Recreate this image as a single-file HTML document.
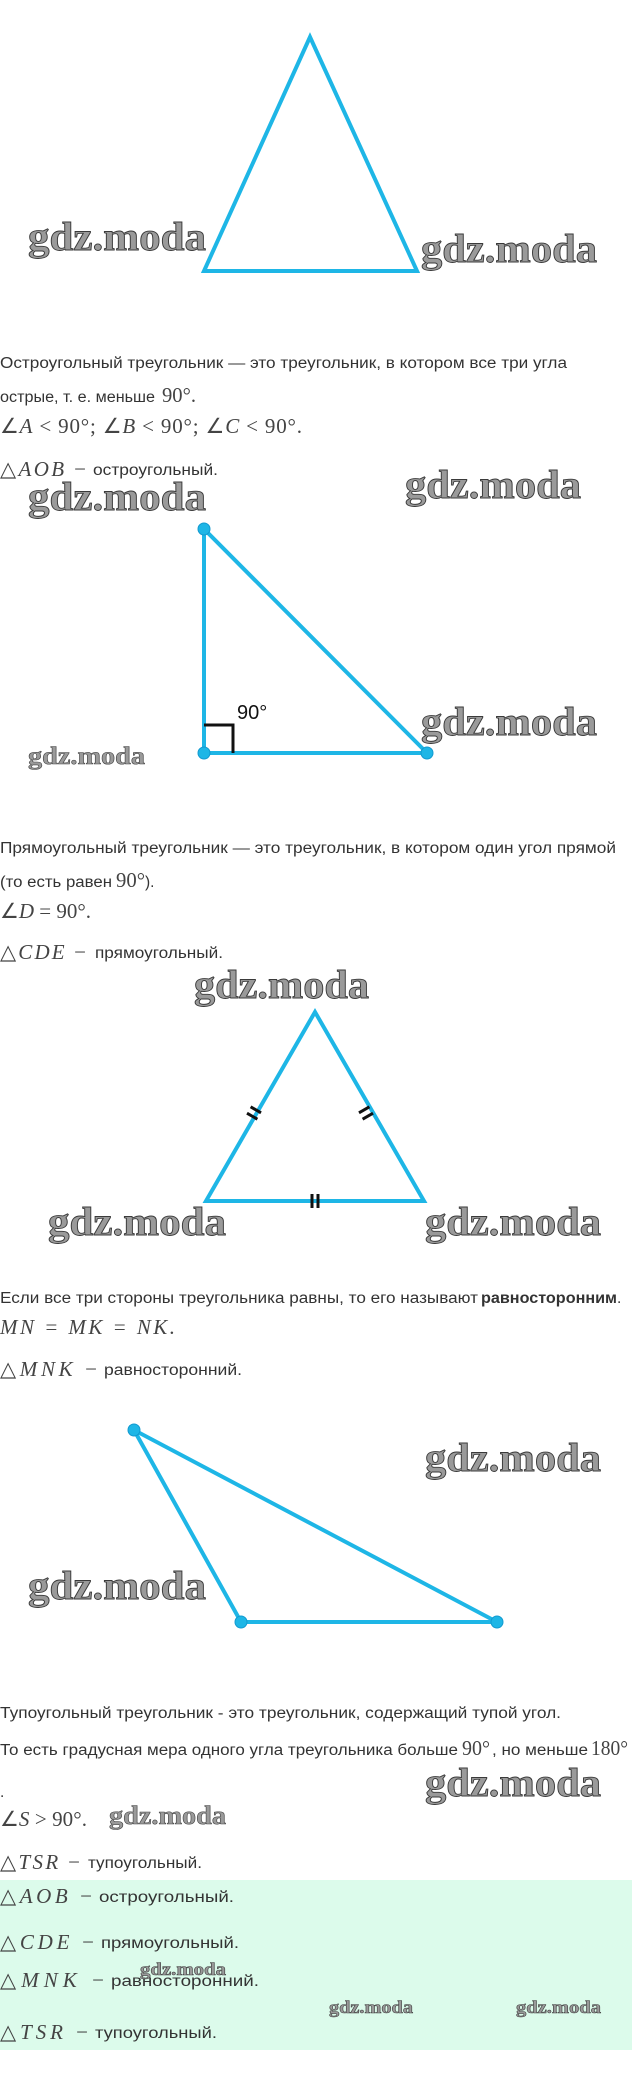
<!DOCTYPE html>
<html><head><meta charset="utf-8"><style>
html,body{margin:0;padding:0;background:#fff;}
svg{display:block;}
.t{font-family:"Liberation Sans",sans-serif;font-size:15.5px;fill:#333;}
.m{font-family:"Liberation Serif",serif;font-style:italic;font-size:21px;fill:#444;}
.n{font-family:"Liberation Serif",serif;font-size:21px;fill:#444;}
.w{font-family:"Liberation Serif",serif;font-weight:bold;font-size:40px;fill:#9a9a9a;stroke:#3a3a3a;stroke-width:0.9;}
.ws{font-family:"Liberation Serif",serif;font-weight:bold;fill:#9a9a9a;stroke:#444;stroke-width:0.6;}
.tri{fill:none;stroke:#1eb6e6;stroke-width:4;stroke-linejoin:miter;}
.dot{fill:#1eb6e6;stroke:#129ad0;stroke-width:1;}
</style></head><body>
<svg width="632" height="2085" viewBox="0 0 632 2085" xmlns="http://www.w3.org/2000/svg">
<polygon class="tri" points="310,37 204,271 417,271"/>
<text class="w" x="28" y="250" textLength="178" lengthAdjust="spacingAndGlyphs">gdz.moda</text>
<text class="w" x="421" y="262" textLength="176" lengthAdjust="spacingAndGlyphs">gdz.moda</text>

<text class="t" x="0" y="368" textLength="567" lengthAdjust="spacingAndGlyphs">Остроугольный треугольник — это треугольник, в котором все три угла</text>
<text class="t" x="0" y="402" textLength="155" lengthAdjust="spacingAndGlyphs">острые, т. е. меньше</text>
<text class="n" x="162" y="402" textLength="34" lengthAdjust="spacingAndGlyphs">90°.</text>
<text x="0" y="433" class="n" textLength="302" lengthAdjust="spacing">∠<tspan class="m">A</tspan> &lt; 90°;  ∠<tspan class="m">B</tspan> &lt; 90°;  ∠<tspan class="m">C</tspan> &lt; 90°.</text>
<text x="0" y="476" class="n" textLength="86" lengthAdjust="spacing">△<tspan class="m">AOB</tspan> −</text>
<text class="t" x="93" y="475" textLength="125" lengthAdjust="spacingAndGlyphs">остроугольный.</text>
<text class="w" x="28" y="510" textLength="178" lengthAdjust="spacingAndGlyphs">gdz.moda</text>
<text class="w" x="405" y="498" textLength="176" lengthAdjust="spacingAndGlyphs">gdz.moda</text>

<polygon class="tri" points="204,529 204,753 427,753"/>
<polyline points="204,725 233,725 233,753" fill="none" stroke="#111" stroke-width="3"/>
<circle class="dot" cx="204" cy="529" r="6"/>
<circle class="dot" cx="204" cy="753" r="6"/>
<circle class="dot" cx="427" cy="753" r="6"/>
<text x="237" y="719" font-family="Liberation Sans,sans-serif" font-size="20" fill="#111">90°</text>
<text class="ws" x="28" y="764" font-size="25" textLength="117" lengthAdjust="spacingAndGlyphs">gdz.moda</text>
<text class="w" x="421" y="735" textLength="176" lengthAdjust="spacingAndGlyphs">gdz.moda</text>

<text class="t" x="0" y="853" textLength="616" lengthAdjust="spacingAndGlyphs">Прямоугольный треугольник — это треугольник, в котором один угол прямой</text>
<text class="t" x="0" y="887" textLength="112" lengthAdjust="spacingAndGlyphs">(то есть равен</text>
<text class="n" x="116" y="887" textLength="29" lengthAdjust="spacingAndGlyphs">90°</text>
<text class="t" x="145" y="887">).</text>
<text x="0" y="918" class="n" textLength="91" lengthAdjust="spacing">∠<tspan class="m">D</tspan> = 90°.</text>
<text x="0" y="959" class="n" textLength="86" lengthAdjust="spacing">△<tspan class="m">CDE</tspan> −</text>
<text class="t" x="95" y="958" textLength="128" lengthAdjust="spacingAndGlyphs">прямоугольный.</text>
<text class="w" x="194" y="998" textLength="175" lengthAdjust="spacingAndGlyphs">gdz.moda</text>

<polygon class="tri" points="315,1012 206,1201 424,1201"/>
<g stroke="#111" stroke-width="3">
<line x1="250.6" y1="1106.8" x2="261" y2="1112.8"/>
<line x1="247" y1="1113.2" x2="257.4" y2="1119.2"/>
<line x1="369.4" y1="1106.8" x2="359" y2="1112.8"/>
<line x1="373" y1="1113.2" x2="362.6" y2="1119.2"/>
<line x1="312" y1="1194" x2="312" y2="1208"/>
<line x1="318" y1="1194" x2="318" y2="1208"/>
</g>
<text class="w" x="48" y="1235" textLength="178" lengthAdjust="spacingAndGlyphs">gdz.moda</text>
<text class="w" x="425" y="1235" textLength="176" lengthAdjust="spacingAndGlyphs">gdz.moda</text>

<text class="t" x="0" y="1303" textLength="478" lengthAdjust="spacingAndGlyphs">Если все три стороны треугольника равны, то его называют</text>
<text class="t" x="481" y="1303" font-weight="bold" textLength="136" lengthAdjust="spacingAndGlyphs">равносторонним</text>
<text class="t" x="617" y="1303">.</text>
<text x="0" y="1334" class="m" textLength="175" lengthAdjust="spacing">MN <tspan class="n">=</tspan> MK <tspan class="n">=</tspan> NK.</text>
<text x="0" y="1376" class="n" textLength="97" lengthAdjust="spacing">△<tspan class="m">MNK</tspan> −</text>
<text class="t" x="104" y="1375" textLength="138" lengthAdjust="spacingAndGlyphs">равносторонний.</text>

<polygon class="tri" points="134,1430 241,1622 497,1622"/>
<circle class="dot" cx="134" cy="1430" r="6"/>
<circle class="dot" cx="241" cy="1622" r="6"/>
<circle class="dot" cx="497" cy="1622" r="6"/>
<text class="w" x="425" y="1471" textLength="176" lengthAdjust="spacingAndGlyphs">gdz.moda</text>
<text class="w" x="28" y="1599" textLength="178" lengthAdjust="spacingAndGlyphs">gdz.moda</text>

<text class="t" x="0" y="1718" textLength="561" lengthAdjust="spacingAndGlyphs">Тупоугольный треугольник - это треугольник, содержащий тупой угол.</text>
<text class="t" x="0" y="1755" textLength="458" lengthAdjust="spacingAndGlyphs">То есть градусная мера одного угла треугольника больше</text>
<text class="n" x="462" y="1755" textLength="28" lengthAdjust="spacingAndGlyphs">90°</text>
<text class="t" x="492" y="1755" textLength="96" lengthAdjust="spacingAndGlyphs">, но меньше</text>
<text class="n" x="591" y="1755" textLength="37" lengthAdjust="spacingAndGlyphs">180°</text>
<text class="t" x="0" y="1797">.</text>
<text class="w" x="425" y="1796" textLength="176" lengthAdjust="spacingAndGlyphs">gdz.moda</text>
<text x="0" y="1826" class="n" textLength="87" lengthAdjust="spacing">∠<tspan class="m">S</tspan> &gt; 90°.</text>
<text class="ws" x="109" y="1824" font-size="26" textLength="117" lengthAdjust="spacingAndGlyphs">gdz.moda</text>
<text x="0" y="1869" class="n" textLength="80" lengthAdjust="spacing">△<tspan class="m">TSR</tspan> −</text>
<text class="t" x="88" y="1868" textLength="114" lengthAdjust="spacingAndGlyphs">тупоугольный.</text>

<rect x="0" y="1880" width="632" height="170" fill="#dcfbeb"/>
<text x="0" y="1903" class="n" textLength="92" lengthAdjust="spacing">△<tspan class="m">AOB</tspan> −</text>
<text class="t" x="99" y="1902" font-size="17" textLength="135" lengthAdjust="spacingAndGlyphs">остроугольный.</text>
<text x="0" y="1949" class="n" textLength="94" lengthAdjust="spacing">△<tspan class="m">CDE</tspan> −</text>
<text class="t" x="101" y="1948" font-size="17" textLength="138" lengthAdjust="spacingAndGlyphs">прямоугольный.</text>
<text x="0" y="1987" class="n" textLength="104" lengthAdjust="spacing">△<tspan class="m">MNK</tspan> −</text>
<text class="t" x="111" y="1986" font-size="17" textLength="148" lengthAdjust="spacingAndGlyphs">равносторонний.</text>
<text class="ws" x="140" y="1975" font-size="18" textLength="86" lengthAdjust="spacingAndGlyphs">gdz.moda</text>
<text class="ws" x="329" y="2013" font-size="18" textLength="84" lengthAdjust="spacingAndGlyphs">gdz.moda</text>
<text class="ws" x="516" y="2013" font-size="18" textLength="85" lengthAdjust="spacingAndGlyphs">gdz.moda</text>
<text x="0" y="2039" class="n" textLength="88" lengthAdjust="spacing">△<tspan class="m">TSR</tspan> −</text>
<text class="t" x="95" y="2038" font-size="17" textLength="122" lengthAdjust="spacingAndGlyphs">тупоугольный.</text>
</svg>
</body></html>
